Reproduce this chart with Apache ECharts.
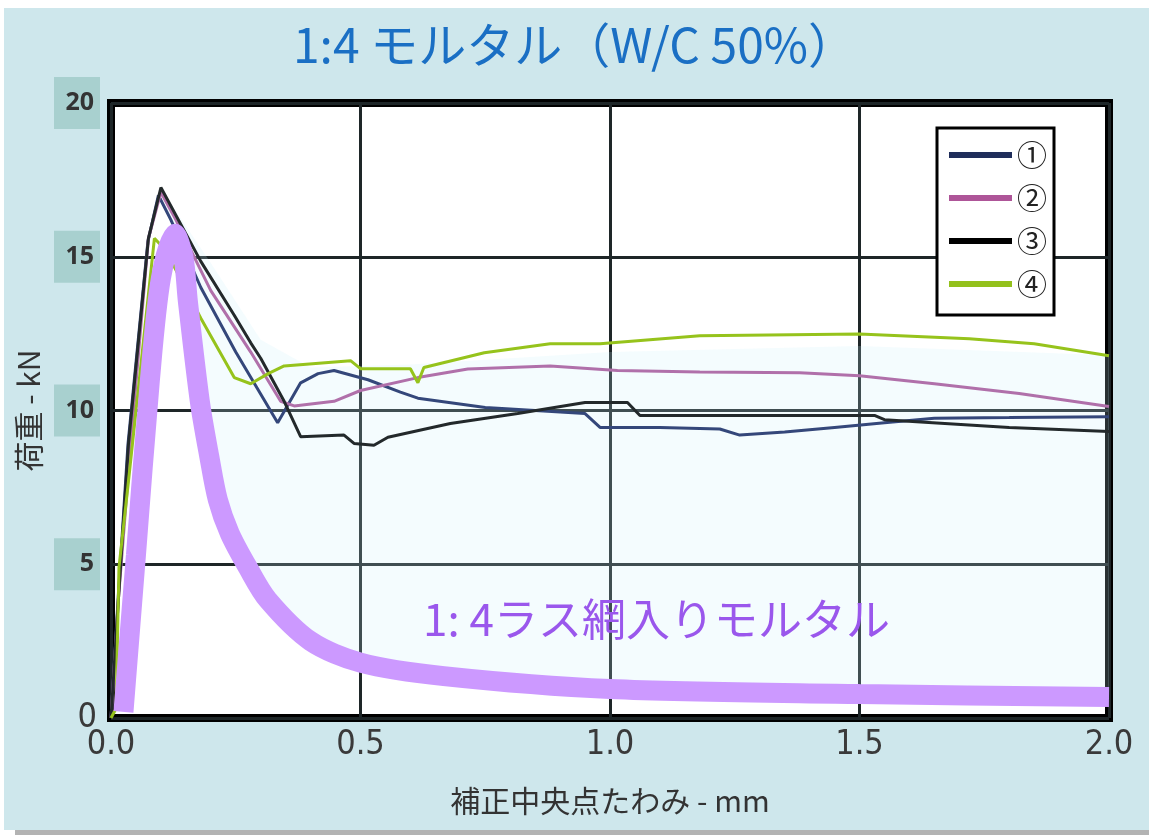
<!DOCTYPE html>
<html>
<head>
    <meta charset="utf-8"/>
    <title></title>
    <script src="https://cdn.jsdelivr.net/npm/echarts@6/dist/echarts.min.js"></script>
    <style>
        body { margin: 0; background: #fff; }
        #panel { position: absolute; left: 4px; top: 8px; width: 1145px; height: 822px; background: #cee7ec; }
        #shadow { position: absolute; left: 15px; top: 830px; width: 1134px; height: 5px; background: #b3b3b3; }
        #main { position: absolute; left: 0; top: 0; width: 1149px; height: 835px; }
    </style>
</head>
<body>
<div id="panel"></div>
<div id="shadow"></div>
<div id="main"></div>
<script type="text/javascript">
    /* データ */
    var xTicks = [0, 0.5, 1.0, 1.5, 2.0];
    var yTicks = [0, 5, 10, 15, 20];
    var names = ['①', '②', '③', '④'];

    var x1 = [0, 0.014, 0.034, 0.074, 0.095, 0.12, 0.18, 0.25, 0.334, 0.38, 0.415, 0.447, 0.515, 0.58, 0.615, 0.75, 0.95, 0.98, 1.1, 1.22, 1.26, 1.35, 1.45, 1.55, 1.65, 1.8, 2.0];
    var y1 = [0, 3.8, 8.9, 15.5, 17.0, 16.2, 14.0, 11.9, 9.6, 10.9, 11.2, 11.3, 11.0, 10.6, 10.4, 10.1, 9.9, 9.45, 9.45, 9.4, 9.2, 9.3, 9.45, 9.6, 9.75, 9.77, 9.8];

    var x2 = [0, 0.015, 0.04, 0.075, 0.1, 0.13, 0.2, 0.28, 0.34, 0.367, 0.447, 0.5, 0.615, 0.715, 0.88, 1.015, 1.18, 1.38, 1.5, 1.65, 1.82, 2.0];
    var y2 = [0, 3.9, 9.0, 15.6, 17.1, 16.2, 13.9, 11.9, 10.3, 10.15, 10.3, 10.65, 11.07, 11.35, 11.45, 11.3, 11.25, 11.23, 11.13, 10.87, 10.55, 10.13];

    var x3 = [0, 0.015, 0.035, 0.075, 0.1, 0.18, 0.247, 0.28, 0.30, 0.347, 0.38, 0.467, 0.487, 0.527, 0.555, 0.68, 0.815, 0.95, 1.035, 1.06, 1.32, 1.53, 1.55, 1.80, 2.0];
    var y3 = [0, 3.9, 8.9, 15.6, 17.25, 14.85, 13.1, 12.2, 11.7, 10.3, 9.15, 9.2, 8.93, 8.87, 9.13, 9.58, 9.9, 10.26, 10.26, 9.84, 9.84, 9.84, 9.7, 9.45, 9.32];

    var x4 = [0, 0.01, 0.016, 0.035, 0.087, 0.11, 0.18, 0.247, 0.28, 0.315, 0.347, 0.48, 0.5, 0.6, 0.615, 0.627, 0.748, 0.88, 0.98, 1.18, 1.5, 1.72, 1.85, 2.0];
    var y4 = [0, 0.3, 4.9, 7.7, 15.6, 15.2, 13.0, 11.07, 10.87, 11.2, 11.45, 11.62, 11.36, 11.36, 10.9, 11.4, 11.88, 12.17, 12.17, 12.43, 12.49, 12.33, 12.17, 11.78];

    /* ラス網入りモルタル */
    var lathX = [0.025, 0.05, 0.078, 0.1, 0.128, 0.145, 0.154, 0.178, 0.197, 0.214, 0.238, 0.274, 0.314, 0.4, 0.5, 0.667, 1.0, 1.5, 2.0];
    var lathY = [0.2, 5.3, 11.0, 14.3, 15.75, 15.0, 13.56, 10.3, 8.5, 7.1, 6.0, 4.9, 3.85, 2.5, 1.8, 1.36, 0.94, 0.78, 0.68];

    /* 薄い網掛けの上端 */
    var shadeX = [0.1, 0.2, 0.3, 0.4, 0.6, 1.0, 1.5, 2.0];
    var shadeTop = [17.2, 14.8, 12.3, 11.4, 11.5, 11.9, 12.1, 11.8];

    var lineColors = ['#34477a', '#b070aa', '#23292b', '#96c31c'];
    var legendColors = ['#1f2d5a', '#ae5598', '#000000', '#93c11c'];
    var narrow = "'Liberation Sans Narrow', 'DejaVu Sans Condensed', 'Liberation Sans', sans-serif";

    function pairs(xs, ys) {
        var out = [];
        for (var i = 0; i < xs.length; i++) out.push([xs[i], ys[i]]);
        return out;
    }

    var chart = echarts.init(document.getElementById('main'));
    var xsList = [x1, x2, x3, x4];
    var ysList = [y1, y2, y3, y4];

    var series = [{
        type: 'custom',
        silent: true,
        z: 1,
        data: [[1, 10]],
        renderItem: function (params, api) {
            var pts = [];
            for (var i = 0; i < shadeX.length; i++) pts.push(api.coord([shadeX[i], shadeTop[i]]));
            for (var j = lathX.length - 1; j >= 0; j--) {
                if (lathX[j] >= 0.128) pts.push(api.coord([lathX[j], lathY[j]]));
            }
            return {type: 'polygon', shape: {points: pts}, style: {fill: 'rgba(200,240,250,0.2)'}};
        }
    }];
    for (var k = 0; k < 4; k++) {
        series.push({
            name: names[k],
            type: 'line',
            showSymbol: false,
            color: lineColors[k],
            lineStyle: {width: 3, color: lineColors[k]},
            data: pairs(xsList[k], ysList[k]),
            z: 3
        });
    }
    series.push({
        name: 'lath',
        type: 'line',
        showSymbol: false,
        smooth: 0.3,
        color: '#cc99ff',
        lineStyle: {width: 20, color: '#cc99ff'},
        data: pairs(lathX, lathY),
        z: 4
    });

    var option = {
        animation: false,
        backgroundColor: 'transparent',
        title: {
            text: '1:4 モルタル（W/C 50%）',
            left: 'center',
            top: 16,
            padding: [5, 5, 5, 40],
            textStyle: {fontFamily: 'Noto Sans CJK JP', fontSize: 48, fontWeight: 'normal', color: '#1a6fc4'}
        },
        legend: {
            data: names.map(function (n, i) { return {name: n, itemStyle: {color: legendColors[i]}}; }),
            orient: 'vertical',
            left: 937,
            top: 128,
            icon: 'rect',
            itemWidth: 63,
            itemHeight: 6,
            itemGap: 13,
            padding: [12, 7, 16, 12],
            backgroundColor: '#fff',
            borderColor: '#000',
            borderWidth: 3,
            textStyle: {fontFamily: 'Noto Sans CJK JP', fontSize: 30, color: '#222'}
        },
        grid: {
            left: 111, top: 103, right: 40, bottom: 117,
            show: true, backgroundColor: '#fff', borderColor: '#000', borderWidth: 8
        },
        xAxis: {
            type: 'value', min: 0, max: 2, interval: 0.5,
            name: '補正中央点たわみ - mm',
            nameLocation: 'middle',
            nameGap: 68,
            nameTextStyle: {fontFamily: 'Noto Sans CJK JP', fontSize: 30, color: '#333'},
            axisLine: {show: false},
            axisTick: {show: false},
            splitLine: {show: true, lineStyle: {color: '#1e2628', width: 3}},
            axisLabel: {
                margin: 10,
                fontFamily: narrow,
                fontSize: 34,
                color: '#3a3a3a',
                formatter: function (v) { return v.toFixed(1); }
            }
        },
        yAxis: {
            type: 'value', min: 0, max: 20, interval: 5,
            name: '荷重 - kN',
            nameLocation: 'middle',
            nameGap: 64,
            nameTextStyle: {fontFamily: 'Noto Sans CJK JP', fontSize: 30, color: '#333'},
            axisLine: {show: false},
            axisTick: {show: false},
            splitLine: {show: true, lineStyle: {color: '#1e2628', width: 3}},
            axisLabel: {
                margin: 11,
                formatter: function (v) { return v === 0 ? '{z|0}' : '{b|' + v + '}'; },
                rich: {
                    b: {
                        width: 38, height: 52, lineHeight: 52, align: 'right',
                        padding: [0, 6, 0, 2], backgroundColor: '#a8d0cf',
                        fontFamily: 'Open Sans', fontSize: 25, fontWeight: 'bold', color: '#333'
                    },
                    z: {
                        padding: [0, 3, 0, 0],
                        fontFamily: narrow, fontSize: 34, color: '#3a3a3a'
                    }
                }
            }
        },
        graphic: [{
            type: 'text',
            left: 423,
            top: 597,
            z: 100,
            style: {
                text: '1: 4ラス網入りモルタル',
                fontFamily: 'Noto Sans CJK JP',
                fontSize: 44,
                fill: '#9a57ec'
            }
        }],
        series: series
    };
    chart.setOption(option);
    window.onresize = chart.resize;
</script>
</body>
</html>
